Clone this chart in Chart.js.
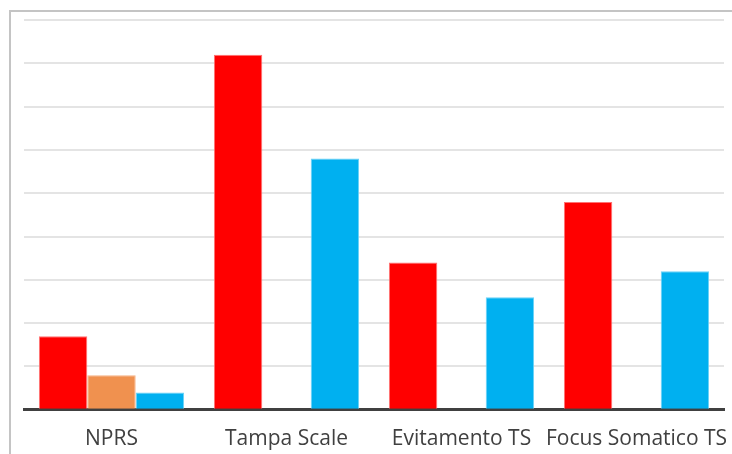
<!DOCTYPE html>
<html>
<head>
<meta charset="utf-8">
<script src="https://cdn.jsdelivr.net/npm/chart.js@4"></script>
<style>
  html, body { margin: 0; padding: 0; background: #fff; }
  #wrap { width: 732px; height: 454px; position: relative; }
</style>
</head>
<body>
<div id="wrap"><canvas id="c" width="732" height="454"></canvas></div>
<script>
// Categories and the three series
const categories = ['NPRS', 'Tampa Scale', 'Evitamento TS', 'Focus Somatico TS'];
const serieA = [1.7, 8.2, 3.4, 4.8];
const serieB = [0.8, 0, 0, 0];
const serieC = [0.4, 5.8, 2.6, 3.2];

// Outer frame around the chart (left and top edges)
const framePlugin = {
  id: 'frame',
  beforeDraw(chart) {
    const ctx = chart.ctx;
    ctx.save();
    ctx.strokeStyle = '#c4c4c4';
    ctx.lineWidth = 2;
    ctx.beginPath();
    ctx.moveTo(10, 460);
    ctx.lineTo(10, 11);
    ctx.lineTo(740, 11);
    ctx.stroke();
    ctx.restore();
  }
};

new Chart(document.getElementById('c'), {
  type: 'bar',
  data: {
    labels: categories,
    datasets: [
      { data: serieA, backgroundColor: '#ff0000', borderColor: '#ff7373', borderWidth: 1 },
      { data: serieB, backgroundColor: '#f0914f', borderColor: '#f6b184', borderWidth: 1 },
      { data: serieC, backgroundColor: '#00b0f0', borderColor: '#6ad2f7', borderWidth: 1 }
    ]
  },
  options: {
    responsive: false,
    animation: false,
    events: [],
    layout: { padding: { left: 24, right: 8, top: 20, bottom: -15 } },
    datasets: { bar: { categoryPercentage: 0.83, barPercentage: 1.0 } },
    plugins: { legend: { display: false }, tooltip: { enabled: false } },
    scales: {
      x: {
        grid: { display: false, drawTicks: false },
        border: { display: true, color: '#404040', width: 3 },
        // long category names may overhang the plot edge
        afterFit(scale) { scale.paddingLeft = 0; scale.paddingRight = 0; },
        ticks: {
          color: '#404040',
          padding: 17,
          maxRotation: 0,
          autoSkip: false,
          font: { family: 'Open Sans', size: 21 }
        }
      },
      y: {
        min: 0,
        max: 9,
        ticks: { display: false, stepSize: 1 },
        grid: { color: '#e4e4e4', lineWidth: 2, drawTicks: false },
        border: { display: false }
      }
    }
  },
  plugins: [framePlugin]
});
</script>
</body>
</html>
